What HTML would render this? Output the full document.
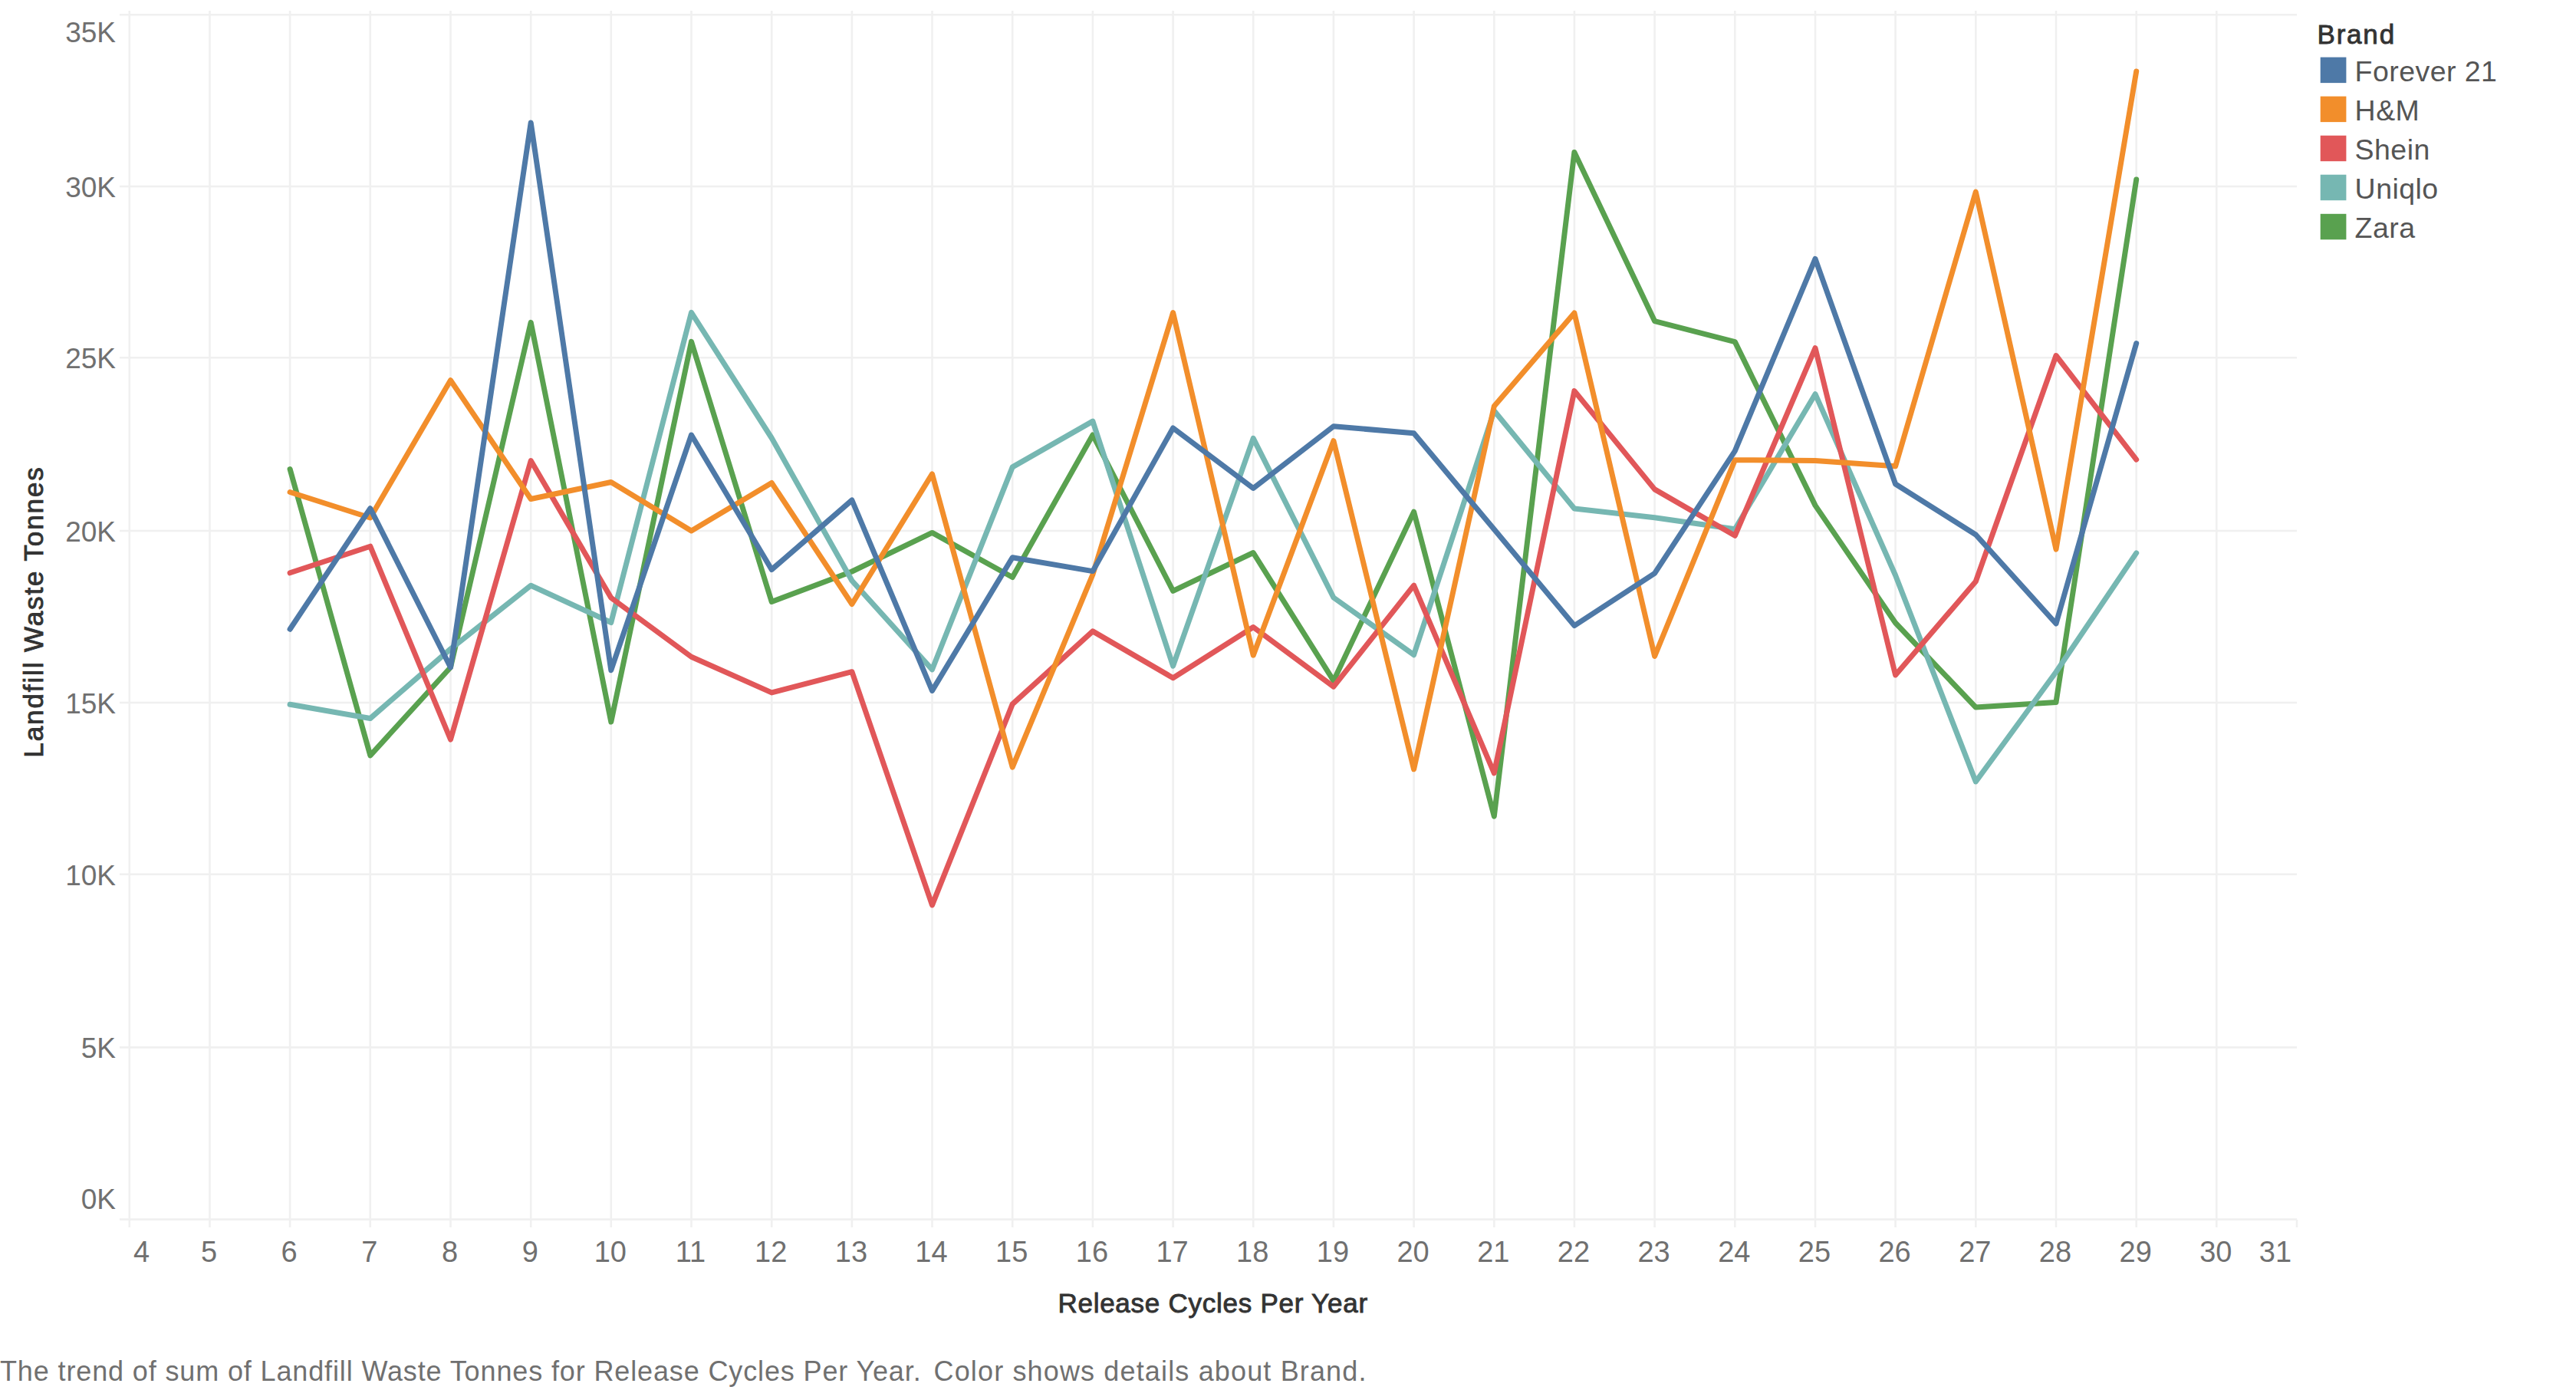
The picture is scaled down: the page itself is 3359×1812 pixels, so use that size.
<!DOCTYPE html>
<html><head><meta charset="utf-8"><style>
html,body{margin:0;padding:0;background:#fff;width:3359px;height:1812px;overflow:hidden}
svg{display:block}
text{font-family:"Liberation Sans",sans-serif}
</style></head><body>
<svg width="3359" height="1812" viewBox="0 0 3359 1812">
<rect width="3359" height="1812" fill="#fff"/>

<g stroke="#f0f0f0" stroke-width="2.6" fill="none">
<line x1="156" y1="19.2" x2="2995" y2="19.2"/>
<line x1="156" y1="243.0" x2="2995" y2="243.0"/>
<line x1="156" y1="466.3" x2="2995" y2="466.3"/>
<line x1="156" y1="692.0" x2="2995" y2="692.0"/>
<line x1="156" y1="916.0" x2="2995" y2="916.0"/>
<line x1="156" y1="1139.8" x2="2995" y2="1139.8"/>
<line x1="156" y1="1365.4" x2="2995" y2="1365.4"/>
<line x1="156" y1="1589.6" x2="2995" y2="1589.6"/>
<line x1="168.8" y1="14" x2="168.8" y2="1600"/>
<line x1="273.5" y1="14" x2="273.5" y2="1600"/>
<line x1="378.1" y1="14" x2="378.1" y2="1600"/>
<line x1="482.8" y1="14" x2="482.8" y2="1600"/>
<line x1="587.5" y1="14" x2="587.5" y2="1600"/>
<line x1="692.2" y1="14" x2="692.2" y2="1600"/>
<line x1="796.8" y1="14" x2="796.8" y2="1600"/>
<line x1="901.5" y1="14" x2="901.5" y2="1600"/>
<line x1="1006.2" y1="14" x2="1006.2" y2="1600"/>
<line x1="1110.9" y1="14" x2="1110.9" y2="1600"/>
<line x1="1215.5" y1="14" x2="1215.5" y2="1600"/>
<line x1="1320.2" y1="14" x2="1320.2" y2="1600"/>
<line x1="1424.9" y1="14" x2="1424.9" y2="1600"/>
<line x1="1529.6" y1="14" x2="1529.6" y2="1600"/>
<line x1="1634.2" y1="14" x2="1634.2" y2="1600"/>
<line x1="1738.9" y1="14" x2="1738.9" y2="1600"/>
<line x1="1843.6" y1="14" x2="1843.6" y2="1600"/>
<line x1="1948.3" y1="14" x2="1948.3" y2="1600"/>
<line x1="2052.9" y1="14" x2="2052.9" y2="1600"/>
<line x1="2157.6" y1="14" x2="2157.6" y2="1600"/>
<line x1="2262.3" y1="14" x2="2262.3" y2="1600"/>
<line x1="2367.0" y1="14" x2="2367.0" y2="1600"/>
<line x1="2471.6" y1="14" x2="2471.6" y2="1600"/>
<line x1="2576.3" y1="14" x2="2576.3" y2="1600"/>
<line x1="2681.0" y1="14" x2="2681.0" y2="1600"/>
<line x1="2785.7" y1="14" x2="2785.7" y2="1600"/>
<line x1="2890.3" y1="14" x2="2890.3" y2="1600"/>
<line x1="2995" y1="1590" x2="2995" y2="1600"/>
</g>
<g fill="#707070" font-size="37" text-anchor="end">
<text x="151" y="55.0">35K</text>
<text x="151" y="257.0">30K</text>
<text x="151" y="480.3">25K</text>
<text x="151" y="706.0">20K</text>
<text x="151" y="930.0">15K</text>
<text x="151" y="1153.8">10K</text>
<text x="151" y="1379.4">5K</text>
<text x="151" y="1576.0">0K</text>
</g>
<g fill="#707070" font-size="38" text-anchor="middle">
<text x="184.5" y="1645">4</text>
<text x="272.5" y="1645">5</text>
<text x="377.1" y="1645">6</text>
<text x="481.8" y="1645">7</text>
<text x="586.5" y="1645">8</text>
<text x="691.2" y="1645">9</text>
<text x="795.8" y="1645">10</text>
<text x="900.5" y="1645">11</text>
<text x="1005.2" y="1645">12</text>
<text x="1109.9" y="1645">13</text>
<text x="1214.5" y="1645">14</text>
<text x="1319.2" y="1645">15</text>
<text x="1423.9" y="1645">16</text>
<text x="1528.6" y="1645">17</text>
<text x="1633.2" y="1645">18</text>
<text x="1737.9" y="1645">19</text>
<text x="1842.6" y="1645">20</text>
<text x="1947.3" y="1645">21</text>
<text x="2051.9" y="1645">22</text>
<text x="2156.6" y="1645">23</text>
<text x="2261.3" y="1645">24</text>
<text x="2366.0" y="1645">25</text>
<text x="2470.6" y="1645">26</text>
<text x="2575.3" y="1645">27</text>
<text x="2680.0" y="1645">28</text>
<text x="2784.7" y="1645">29</text>
<text x="2889.3" y="1645">30</text>
<text x="2967" y="1645">31</text>
</g>
<text x="1581.6" y="1711.2" fill="#333333" stroke="#333333" stroke-width="0.9" font-size="35" letter-spacing="0.75" text-anchor="middle">Release Cycles Per Year</text>
<text transform="translate(56.3,797.5) rotate(-90)" x="0" y="0" fill="#333333" stroke="#333333" stroke-width="0.9" font-size="35" letter-spacing="1.9" text-anchor="middle">Landfill Waste Tonnes</text>
<polyline points="378.1,611.5 482.8,984.8 587.5,870.0 692.2,420.3 796.8,941.0 901.5,445.4 1006.2,784.5 1110.9,745.0 1215.5,694.4 1320.2,752.5 1424.9,567.0 1529.6,770.3 1634.2,720.5 1738.9,887.4 1843.6,667.2 1948.3,1064.1 2052.9,198.4 2157.6,418.6 2262.3,445.6 2367.0,658.9 2471.6,812.0 2576.3,922.0 2681.0,915.4 2785.7,234.0" fill="none" stroke="#59a14f" stroke-width="7" stroke-linejoin="round" stroke-linecap="round"/>
<polyline points="378.1,918.3 482.8,936.5 587.5,846.0 692.2,763.2 796.8,811.5 901.5,407.4 1006.2,571.0 1110.9,757.0 1215.5,872.8 1320.2,608.9 1424.9,549.1 1529.6,868.2 1634.2,571.4 1738.9,779.0 1843.6,853.7 1948.3,535.5 2052.9,663.0 2157.6,674.8 2262.3,689.7 2367.0,513.7 2471.6,750.0 2576.3,1019.0 2681.0,876.0 2785.7,720.9" fill="none" stroke="#76b7b2" stroke-width="7" stroke-linejoin="round" stroke-linecap="round"/>
<polyline points="378.1,746.8 482.8,712.2 587.5,964.0 692.2,600.6 796.8,779.3 901.5,856.2 1006.2,902.9 1110.9,875.7 1215.5,1179.9 1320.2,917.9 1424.9,822.9 1529.6,883.7 1634.2,817.5 1738.9,895.1 1843.6,763.1 1948.3,1007.8 2052.9,509.6 2157.6,637.9 2262.3,698.3 2367.0,453.6 2471.6,880.0 2576.3,758.0 2681.0,463.5 2785.7,599.1" fill="none" stroke="#e15759" stroke-width="7" stroke-linejoin="round" stroke-linecap="round"/>
<polyline points="378.1,641.5 482.8,675.0 587.5,495.7 692.2,650.5 796.8,628.5 901.5,691.9 1006.2,629.4 1110.9,787.5 1215.5,617.9 1320.2,1000.2 1424.9,749.0 1529.6,407.6 1634.2,854.2 1738.9,574.7 1843.6,1002.8 1948.3,529.5 2052.9,408.0 2157.6,855.5 2262.3,599.7 2367.0,600.4 2471.6,607.7 2576.3,250.2 2681.0,716.1 2785.7,93.0" fill="none" stroke="#f28e2b" stroke-width="7" stroke-linejoin="round" stroke-linecap="round"/>
<polyline points="378.1,820.2 482.8,662.8 587.5,870.0 692.2,160.0 796.8,873.7 901.5,567.0 1006.2,742.5 1110.9,652.0 1215.5,900.4 1320.2,726.7 1424.9,744.6 1529.6,558.0 1634.2,636.5 1738.9,555.8 1843.6,564.7 1948.3,690.0 2052.9,815.6 2157.6,747.4 2262.3,587.8 2367.0,337.4 2471.6,631.0 2576.3,697.0 2681.0,813.0 2785.7,447.5" fill="none" stroke="#4e79a7" stroke-width="7" stroke-linejoin="round" stroke-linecap="round"/>
<text x="3021.5" y="56.7" fill="#333333" stroke="#333333" stroke-width="0.9" font-size="35" letter-spacing="1.8">Brand</text>
<rect x="3025.7" y="74.6" width="33.7" height="33.5" fill="#4e79a7"/>
<text x="3070.6" y="105.6" fill="#555" font-size="37.5" letter-spacing="0.45">Forever 21</text>
<rect x="3025.7" y="125.6" width="33.7" height="33.5" fill="#f28e2b"/>
<text x="3070.6" y="156.6" fill="#555" font-size="37.5" letter-spacing="0.45">H&amp;M</text>
<rect x="3025.7" y="176.7" width="33.7" height="33.5" fill="#e15759"/>
<text x="3070.6" y="207.7" fill="#555" font-size="37.5" letter-spacing="0.45">Shein</text>
<rect x="3025.7" y="227.7" width="33.7" height="33.5" fill="#76b7b2"/>
<text x="3070.6" y="258.8" fill="#555" font-size="37.5" letter-spacing="0.45">Uniqlo</text>
<rect x="3025.7" y="278.8" width="33.7" height="33.5" fill="#59a14f"/>
<text x="3070.6" y="309.8" fill="#555" font-size="37.5" letter-spacing="0.45">Zara</text>
<text x="0" y="1799.5" fill="#707070" font-size="36" letter-spacing="0.87">The trend of sum of Landfill Waste Tonnes for Release Cycles Per Year.</text>
<text x="1217.5" y="1799.5" fill="#707070" font-size="36" letter-spacing="1.15">Color shows details about Brand.</text>
</svg></body></html>
